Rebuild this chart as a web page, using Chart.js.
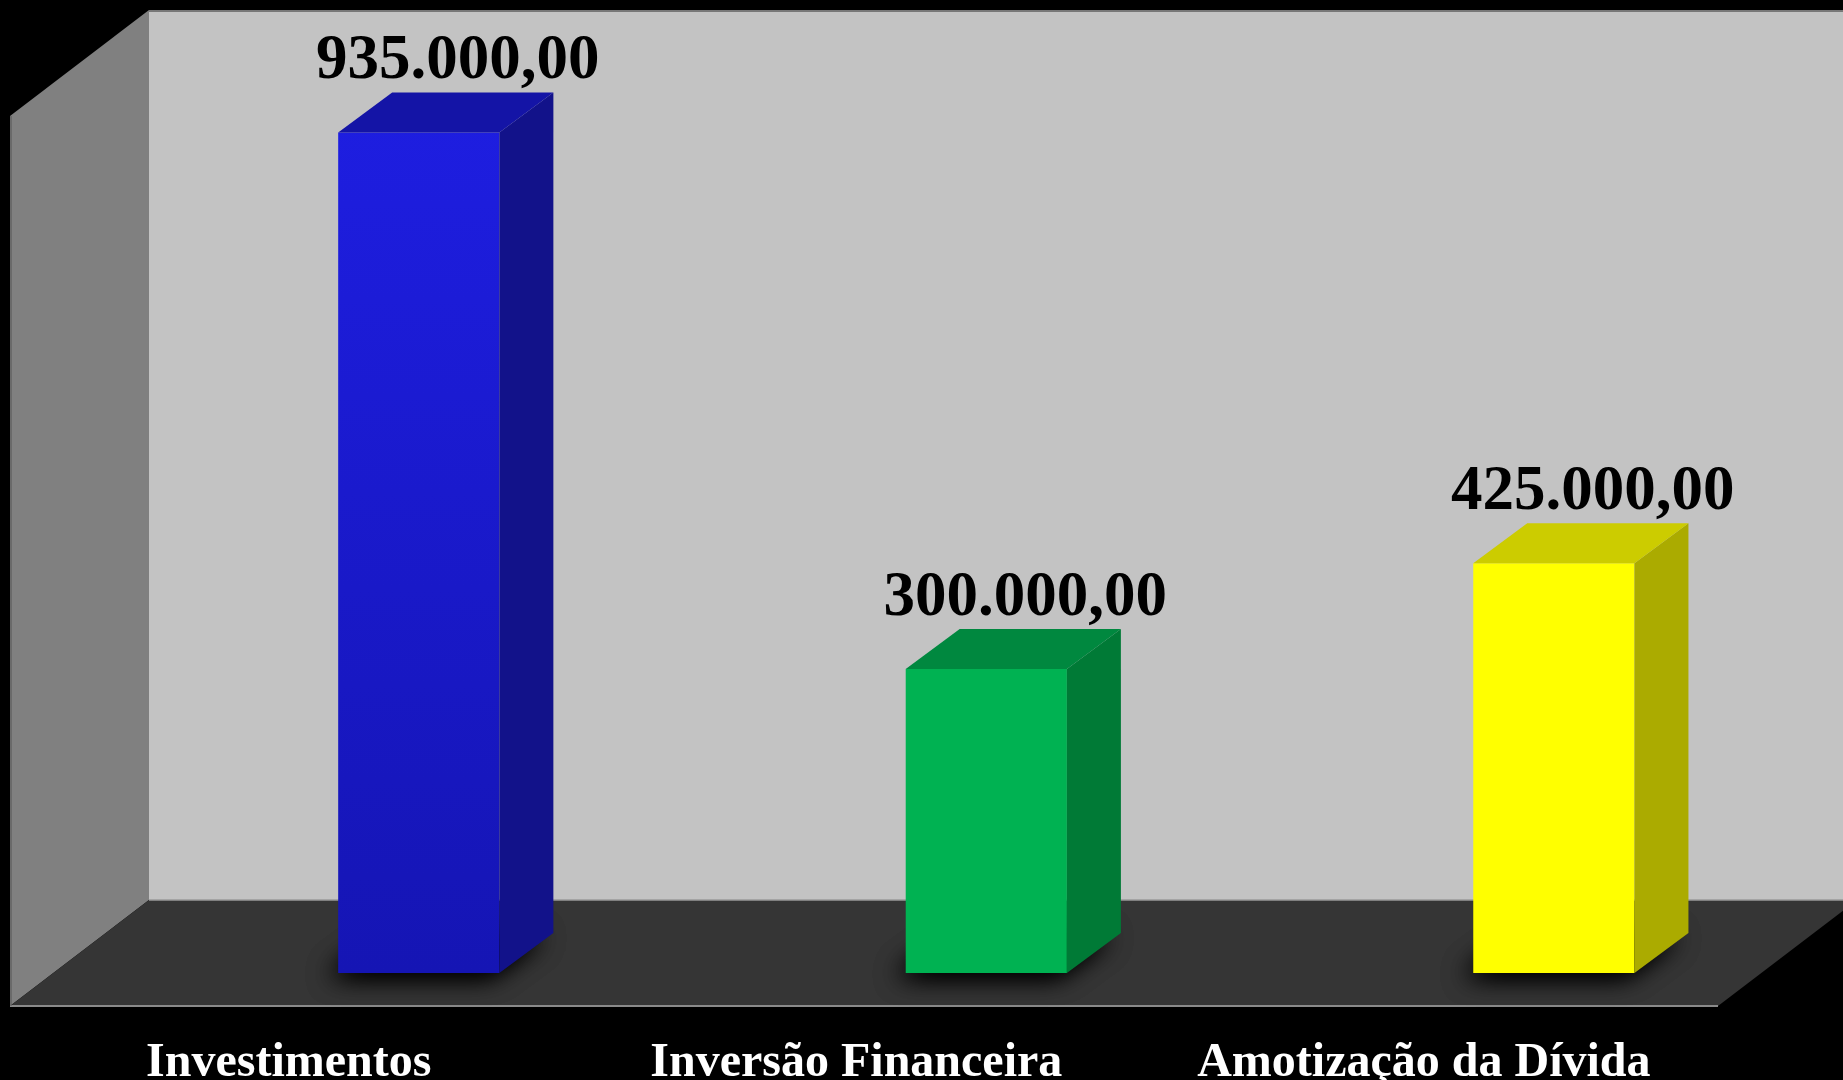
<!DOCTYPE html>
<html>
<head>
<meta charset="utf-8">
<script src="https://cdn.jsdelivr.net/npm/chart.js@4.4.1/dist/chart.umd.min.js"></script>
<style>
  html, body { margin: 0; padding: 0; background: #000; overflow: hidden; }
</style>
</head>
<body>
<canvas id="chart" width="1843" height="1080"></canvas>
<script>
const categories = ['Investimentos', 'Inversão Financeira', 'Amotização da Dívida'];
const values = [935000, 300000, 425000];
const valueLabels = ['935.000,00', '300.000,00', '425.000,00'];
const frontColors = ['#1c1ce0', '#00b252', '#ffff00'];
const sideColors = ['#12128a', '#007a36', '#abab00'];
const topColors = ['#1414a6', '#00883f', '#cccc00'];

const yMin = -60000;
const yMax = 1080000;

// depth of the "room" and of each bar, in px
const room = { dx: 139, dy: -106 };
const bar3d = { dx: 54, dy: -40 };

function poly(ctx, pts, fill) {
  ctx.beginPath();
  ctx.moveTo(pts[0][0], pts[0][1]);
  pts.slice(1).forEach(p => ctx.lineTo(p[0], p[1]));
  ctx.closePath();
  ctx.fillStyle = fill;
  ctx.fill();
}

function line(ctx, x1, y1, x2, y2, color, w) {
  ctx.beginPath();
  ctx.moveTo(x1, y1);
  ctx.lineTo(x2, y2);
  ctx.strokeStyle = color;
  ctx.lineWidth = w;
  ctx.stroke();
}

const roomPlugin = {
  id: 'room',
  beforeDraw(chart) {
    const { ctx, chartArea: a, width, height } = chart;
    ctx.save();
    ctx.fillStyle = '#000';
    ctx.fillRect(0, 0, width, height);

    const backL = a.left + 14, backT = a.top, backB = a.bottom - 73;
    const frontL = backL - room.dx, frontB = backB - room.dy;
    const frontR = width - 125;

    // back wall
    ctx.fillStyle = '#c3c3c3';
    ctx.fillRect(backL, backT, width - backL, backB - backT);
    // left wall
    poly(ctx, [[backL, backT], [backL, backB], [frontL, frontB], [frontL, backT - room.dy]], '#808080');
    // floor
    const rightY = frontB + (width - frontR) * room.dy / room.dx;
    poly(ctx, [[backL, backB], [width, backB], [width, rightY], [frontR, frontB], [frontL, frontB]], '#353535');

    // edges
    line(ctx, backL, backT + 1, width, backT + 1, '#777', 2);
    line(ctx, backL, backB, width, backB, '#9a9a9a', 1.5);
    line(ctx, frontL, frontB, frontR, frontB, '#8a8a8a', 2);
    line(ctx, frontL + 1, backT - room.dy, frontL + 1, frontB, '#555', 1);
    ctx.restore();
  },
  beforeDatasetsDraw(chart) {
    // soft shadow of each bar on the floor
    const ctx = chart.ctx;
    const meta = chart.getDatasetMeta(0);
    const off = 5000;
    ctx.save();
    meta.data.forEach(el => {
      const { x, base, width: w } = el.getProps(['x', 'base', 'width'], true);
      const l = x - w / 2, r = x + w / 2;
      ctx.shadowColor = 'rgba(0,0,0,1)';
      ctx.shadowBlur = 26;
      ctx.shadowOffsetX = off - 10;
      ctx.shadowOffsetY = 3;
      for (let k = 0; k < 2; k++) {
        poly(ctx, [[l - off, base], [r - off, base], [r + bar3d.dx - off, base + bar3d.dy],
          [l + bar3d.dx - off, base + bar3d.dy]], '#000');
      }
    });
    ctx.restore();
  },
  afterDatasetsDraw(chart) {
    const ctx = chart.ctx;
    const meta = chart.getDatasetMeta(0);
    ctx.save();
    meta.data.forEach((el, i) => {
      const { x, y, base, width: w } = el.getProps(['x', 'y', 'base', 'width'], true);
      const l = x - w / 2, r = x + w / 2;
      // side face
      poly(ctx, [[r, y], [r + bar3d.dx, y + bar3d.dy], [r + bar3d.dx, base + bar3d.dy], [r, base]], sideColors[i]);
      // top face
      poly(ctx, [[l, y], [l + bar3d.dx, y + bar3d.dy], [r + bar3d.dx, y + bar3d.dy], [r, y]], topColors[i]);

      ctx.font = 'bold 63px "Liberation Serif", "Times New Roman", serif';
      ctx.fillStyle = '#000';
      ctx.textAlign = 'center';
      ctx.textBaseline = 'alphabetic';
      ctx.fillText(valueLabels[i], x + bar3d.dx / 2 + 12, y + bar3d.dy - 14);
    });
    ctx.restore();
  }
};

function frontFill(c) {
  const i = c.dataIndex;
  const area = c.chart.chartArea;
  if (i !== 0 || !area) return frontColors[i];
  const g = c.chart.ctx.createLinearGradient(0, area.top, 0, area.bottom);
  g.addColorStop(0, '#1f1fe6');
  g.addColorStop(1, '#1515b4');
  return g;
}

new Chart(document.getElementById('chart'), {
  type: 'bar',
  data: {
    labels: categories,
    datasets: [{
      data: values,
      backgroundColor: frontFill,
      borderWidth: 0,
      base: yMin,
      categoryPercentage: 1,
      barPercentage: 0.284
    }]
  },
  options: {
    responsive: false,
    animation: false,
    devicePixelRatio: 1,
    layout: { padding: { left: 135, right: 3, top: 10, bottom: 0 } },
    plugins: { legend: { display: false }, tooltip: { enabled: false } },
    scales: {
      x: {
        grid: { display: false, drawTicks: false },
        border: { display: false },
        afterFit: s => { s.height = 107; },
        ticks: {
          color: '#fff',
          font: { family: 'Liberation Serif', size: 48, weight: 'bold' },
          padding: 62,
          labelOffset: -130,
          maxRotation: 0,
          autoSkip: false
        }
      },
      y: { display: false, min: yMin, max: yMax }
    }
  },
  plugins: [roomPlugin]
});
</script>
</body>
</html>
